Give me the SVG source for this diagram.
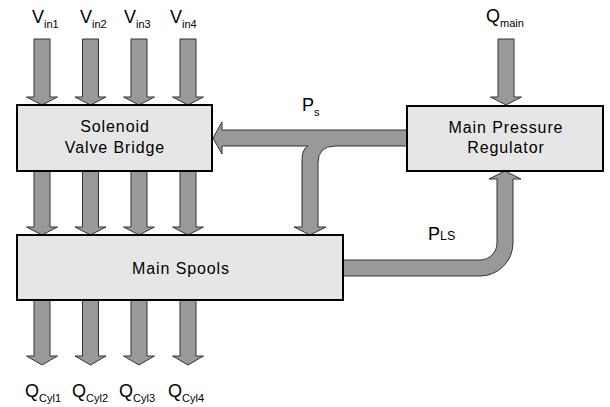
<svg xmlns="http://www.w3.org/2000/svg" width="610" height="407" viewBox="0 0 610 407">
<style>
.box{fill:#e6e6e6;stroke:#000;stroke-width:2}
.arr{fill:#999;stroke:#333;stroke-width:1;stroke-linejoin:miter}
.bt{font-family:"Liberation Sans",Arial,sans-serif;font-size:16px;letter-spacing:0.9px;fill:#000;text-anchor:middle}
.lb{font-family:"Liberation Sans",Arial,sans-serif;font-size:18px;fill:#000}
.sb{font-size:11px}
</style>
<defs>
<path id="va" d="M-8 0 V58 H-15.5 L0 66 L15.5 58 H8 V0 Z"/>
<path id="vb" d="M-8 0 V56 H-15.5 L0 64 L15.5 56 H8 V0 Z"/>
<path id="vc" d="M-8 0 V56 H-15.5 L0 65 L15.5 56 H8 V0 Z"/>
</defs>
<g id="connectors">
<use href="#va" class="arr" x="42" y="39"/>
<use href="#va" class="arr" x="90.5" y="39"/>
<use href="#va" class="arr" x="139" y="39"/>
<use href="#va" class="arr" x="188" y="39"/>
<use href="#va" class="arr" x="506" y="39"/>
<use href="#vb" class="arr" x="42" y="171"/>
<use href="#vb" class="arr" x="90.5" y="171"/>
<use href="#vb" class="arr" x="139" y="171"/>
<use href="#vb" class="arr" x="188" y="171"/>
<use href="#vc" class="arr" x="42" y="300"/>
<use href="#vc" class="arr" x="90.5" y="300"/>
<use href="#vc" class="arr" x="139" y="300"/>
<use href="#vc" class="arr" x="188" y="300"/>
<path class="arr" d="M407 130 L222 130 L222 122 L213 138 L222 154 L222 146 L308 146 Q302 149 302 160 L302 227 L294 227 L310 235 L326 227 L318 227 L318 163 Q318 146 335 146 L407 146 Z"/>
<path class="arr" d="M343 260 L480 260 A17 17 0 0 0 497 243 L497 179 L489 179 L505 171 L521 179 L513 179 L513 243 A33 33 0 0 1 480 276 L343 276 Z"/>
</g>
<g id="solenoid">
<rect class="box" x="17" y="105" width="195" height="66"/>
<text class="bt" x="115" y="132">Solenoid</text>
<text class="bt" x="115" y="153">Valve Bridge</text>
</g>
<g id="regulator">
<rect class="box" x="407" y="106" width="196" height="65"/>
<text class="bt" x="506" y="133">Main Pressure</text>
<text class="bt" x="506" y="153">Regulator</text>
</g>
<g id="spools">
<rect class="box" x="17" y="235" width="326" height="65"/>
<text class="bt" x="181" y="274">Main Spools</text>
</g>
<g id="labels">
<text class="lb" x="32" y="23">V<tspan class="sb" dy="5">in1</tspan></text>
<text class="lb" x="80" y="23">V<tspan class="sb" dy="5">in2</tspan></text>
<text class="lb" x="124" y="23">V<tspan class="sb" dy="5">in3</tspan></text>
<text class="lb" x="170" y="23">V<tspan class="sb" dy="5">in4</tspan></text>
<text class="lb" x="486" y="22">Q<tspan class="sb" dy="5">main</tspan></text>
<text class="lb" x="302" y="111">P<tspan class="sb" dy="5">s</tspan></text>
<text class="lb" x="428" y="240">P<tspan style="font-size:12.5px">LS</tspan></text>
<text class="lb" x="25" y="397">Q<tspan class="sb" dy="5">Cyl1</tspan></text>
<text class="lb" x="72" y="397">Q<tspan class="sb" dy="5">Cyl2</tspan></text>
<text class="lb" x="119" y="397">Q<tspan class="sb" dy="5">Cyl3</tspan></text>
<text class="lb" x="168" y="397">Q<tspan class="sb" dy="5">Cyl4</tspan></text>
</g>
</svg>
